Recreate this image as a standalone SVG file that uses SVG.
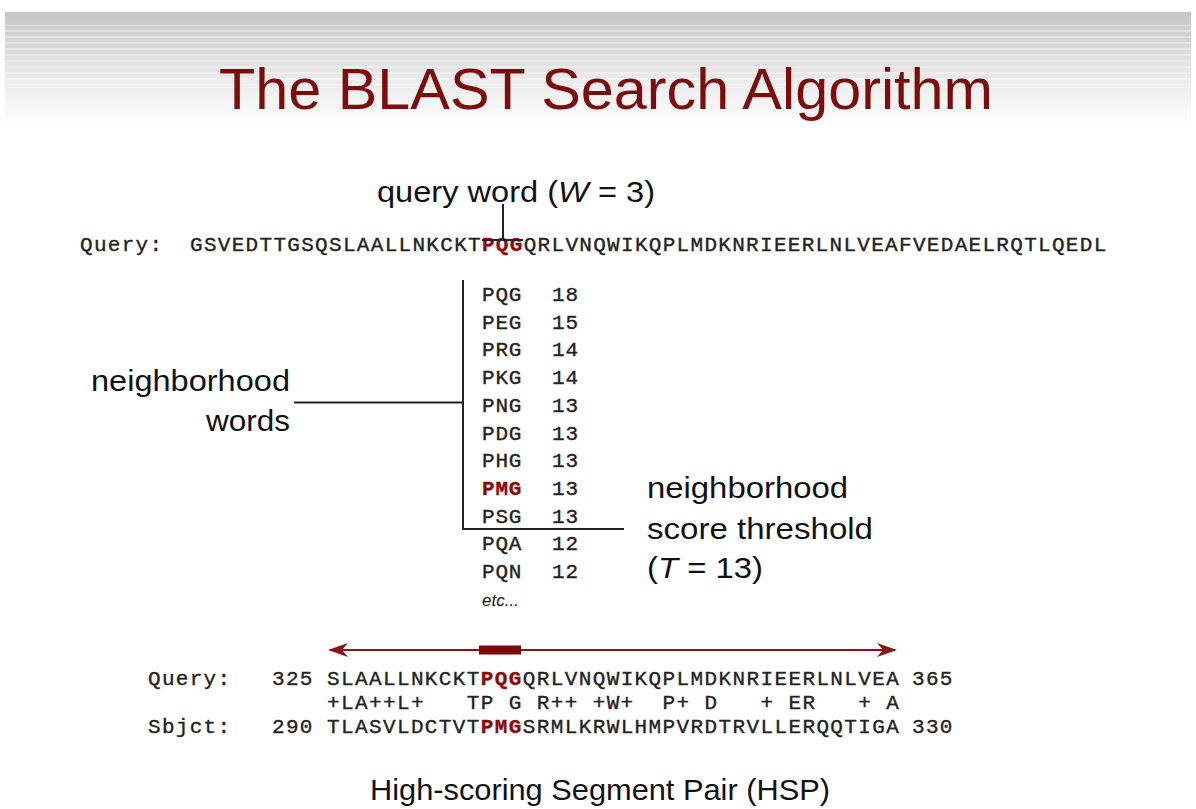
<svg xmlns="http://www.w3.org/2000/svg" width="1196" height="809" viewBox="0 0 1196 809">
<style>
.sans{font-family:"Liberation Sans",Arial,sans-serif;fill:#111;}
.lbl{font-size:30px;}
.mono{font-family:"Liberation Mono","Courier New",monospace;font-size:21px;fill:#222;stroke:#222;stroke-width:0.35px;letter-spacing:1.3px;}
.list{font-family:"Liberation Mono","Courier New",monospace;font-size:21px;fill:#222;stroke:#222;stroke-width:0.35px;letter-spacing:0.8px;}
.hl{fill:#8b0a0a;stroke:#8b0a0a;font-weight:bold;}
.ln{stroke:#222;stroke-width:2;fill:none;}
.red{stroke:#8b1515;stroke-width:2;fill:none;}
</style>
<defs>
<linearGradient id="band" x1="0" y1="0" x2="0" y2="1">
<stop offset="0" stop-color="#c6c6c6"/>
<stop offset="0.12" stop-color="#cdcdcd"/>
<stop offset="0.35" stop-color="#dcdcdc"/>
<stop offset="0.6" stop-color="#ececec"/>
<stop offset="0.85" stop-color="#f8f8f8"/>
<stop offset="1" stop-color="#ffffff"/>
</linearGradient>
<pattern id="stripes" width="8" height="6" patternUnits="userSpaceOnUse">
<rect x="0" y="0" width="8" height="2" fill="#ffffff" opacity="0.35"/>
</pattern>
<marker id="ah" viewBox="0 0 20 14" refX="18" refY="7" markerWidth="20" markerHeight="14" markerUnits="userSpaceOnUse" orient="auto-start-reverse">
<path d="M20,7 L0,0 L6,7 L0,14 Z" fill="#8b1515"/>
</marker>
</defs>
<rect width="1196" height="809" fill="#ffffff"/>
<g id="title">
<rect x="5" y="12" width="1186" height="116" fill="url(#band)"/>
<rect x="5" y="25" width="1186" height="60" fill="url(#stripes)"/>
<text x="219" y="109" font-family="'Liberation Sans',Arial,sans-serif" font-size="57" fill="#7d0d0d" textLength="774" lengthAdjust="spacingAndGlyphs">The BLAST Search Algorithm</text>
</g>
<g id="query-word-label">
<text class="sans lbl" x="377" y="202" textLength="278" lengthAdjust="spacingAndGlyphs">query word (<tspan font-style="italic">W</tspan> = 3)</text>
</g>
<g id="query-line">
<text class="mono" x="80" y="251">Query:</text>
<text class="mono" x="190" y="251">GSVEDTTGSQSLAALLNKCKT<tspan class="hl">PQG</tspan>QRLVNQWIKQPLMDKNRIEERLNLVEAFVEDAELRQTLQEDL</text>
</g>
<g id="neighborhood-list">
<text class="list" x="482" y="301">PQG</text><text class="list" x="552" y="301">18</text>
<text class="list" x="482" y="329">PEG</text><text class="list" x="552" y="329">15</text>
<text class="list" x="482" y="356">PRG</text><text class="list" x="552" y="356">14</text>
<text class="list" x="482" y="384">PKG</text><text class="list" x="552" y="384">14</text>
<text class="list" x="482" y="412">PNG</text><text class="list" x="552" y="412">13</text>
<text class="list" x="482" y="440">PDG</text><text class="list" x="552" y="440">13</text>
<text class="list" x="482" y="467">PHG</text><text class="list" x="552" y="467">13</text>
<text class="list hl" x="482" y="495">PMG</text><text class="list" x="552" y="495">13</text>
<text class="list" x="482" y="523">PSG</text><text class="list" x="552" y="523">13</text>
<text class="list" x="482" y="550">PQA</text><text class="list" x="552" y="550">12</text>
<text class="list" x="482" y="578">PQN</text><text class="list" x="552" y="578">12</text>
<text class="sans" x="482" y="606" font-size="17" font-style="italic" fill="#333">etc...</text>
</g>
<g id="neighborhood-words-label">
<text class="sans lbl" x="91" y="391" textLength="199" lengthAdjust="spacingAndGlyphs">neighborhood</text>
<text class="sans lbl" x="206" y="431" textLength="84" lengthAdjust="spacingAndGlyphs">words</text>
</g>
<g id="threshold-label">
<text class="sans lbl" x="647" y="498" textLength="201" lengthAdjust="spacingAndGlyphs">neighborhood</text>
<text class="sans lbl" x="647" y="539" textLength="226" lengthAdjust="spacingAndGlyphs">score threshold</text>
<text class="sans lbl" x="647" y="578" textLength="116" lengthAdjust="spacingAndGlyphs">(<tspan font-style="italic">T</tspan> = 13)</text>
</g>
<g id="hsp-alignment">
<text class="mono" x="148" y="685">Query:</text>
<text class="mono" x="272" y="685">325</text>
<text class="mono" x="327" y="685" style="letter-spacing:1.38px">SLAALLNKCKT<tspan class="hl">PQG</tspan>QRLVNQWIKQPLMDKNRIEERLNLVEA</text>
<text class="mono" x="912" y="685">365</text>
<text class="mono" x="327" y="709" style="letter-spacing:1.38px" xml:space="preserve">+LA++L+   TP G R++ +W+  P+ D   + ER   + A</text>
<text class="mono" x="148" y="733">Sbjct:</text>
<text class="mono" x="272" y="733">290</text>
<text class="mono" x="327" y="733" style="letter-spacing:1.38px">TLASVLDCTVT<tspan class="hl">PMG</tspan>SRMLKRWLHMPVRDTRVLLERQQTIGA</text>
<text class="mono" x="912" y="733">330</text>
</g>
<g id="hsp-label">
<text class="sans lbl" x="370" y="800" textLength="460" lengthAdjust="spacingAndGlyphs">High-scoring Segment Pair (HSP)</text>
</g>
<g id="connectors">
<path class="ln" d="M503,204 V240 M482,240 H523" stroke-width="1.6"/>
<path class="ln" d="M463,280 V529 H624"/>
<path class="ln" d="M294,402.5 H463"/>
<path class="red" d="M330,650 H895" marker-start="url(#ah)" marker-end="url(#ah)"/>
<rect x="479" y="645.5" width="42" height="9" fill="#7d0a0a"/>
</g>
</svg>
